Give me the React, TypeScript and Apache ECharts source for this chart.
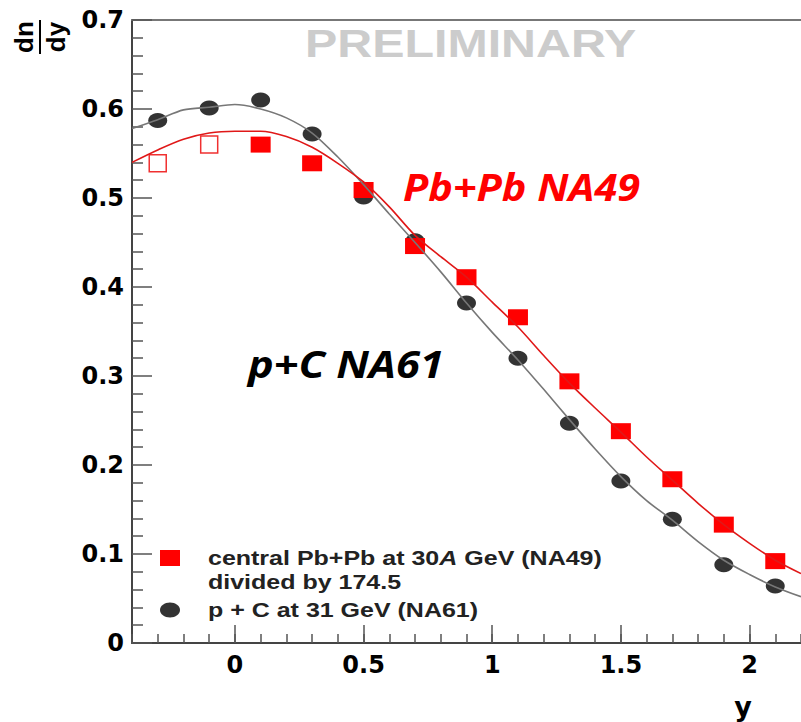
import React, { useEffect, useRef } from "react";
import * as echarts from "echarts";

// Rapidity bins
const yBins = [-0.3, -0.1, 0.1, 0.3, 0.5, 0.7, 0.9, 1.1, 1.3, 1.5, 1.7, 1.9, 2.1];
// central Pb+Pb at 30A GeV (NA49) divided by 174.5 (first two are reflected, open symbols)
const pbpbValues = [0.539, 0.560, 0.560, 0.539, 0.509, 0.446, 0.411, 0.366, 0.294, 0.238, 0.184, 0.133, 0.092];
const pbpbOpenCount = 2;
// p + C at 31 GeV (NA61)
const pcValues = [0.587, 0.601, 0.610, 0.572, 0.501, 0.452, 0.382, 0.320, 0.247, 0.182, 0.139, 0.088, 0.064];

// Fit curves
const curveX = [-0.4, -0.3, -0.2, -0.1, 0, 0.1, 0.2, 0.3, 0.4, 0.5, 0.6, 0.7, 0.8, 0.9, 1.0, 1.1, 1.2, 1.3, 1.4, 1.5, 1.6, 1.7, 1.8, 1.9, 2.0, 2.1, 2.2];
const pcFit = [0.578, 0.588, 0.599, 0.602, 0.605, 0.600, 0.590, 0.573, 0.546, 0.515, 0.482, 0.450, 0.417, 0.382, 0.349, 0.318, 0.285, 0.251, 0.218, 0.187, 0.160, 0.138, 0.114, 0.093, 0.077, 0.063, 0.052];
const pbpbFit = [0.540, 0.554, 0.566, 0.573, 0.575, 0.575, 0.569, 0.557, 0.539, 0.518, 0.490, 0.458, 0.434, 0.411, 0.383, 0.355, 0.323, 0.292, 0.264, 0.237, 0.209, 0.183, 0.157, 0.133, 0.112, 0.093, 0.078];

const xMajorTicks = [0, 0.5, 1, 1.5, 2];

export default function App() {
  const ref = useRef<HTMLDivElement>(null);
  useEffect(() => {
    if (!ref.current) return;
    const chart = echarts.init(ref.current, null, { renderer: "svg" });
    const labelFont = { fontFamily: "DejaVu Sans", fontWeight: "bold" as const, fontSize: 24, color: "#000" };
    const legendFont = 'bold 20px "Liberation Sans"';
    const legendScale = 1.25;
    chart.setOption({
      animation: false,
      backgroundColor: "#fff",
      grid: { left: 132, top: 20, width: 670, height: 623 },
      xAxis: [
        {
          type: "value", min: -0.4, max: 2.2, interval: 0.1, position: "bottom",
          axisLine: { show: true, onZero: false, lineStyle: { color: "#444", width: 2 } },
          axisTick: { show: true, inside: true, length: 9, lineStyle: { color: "#555", width: 1.5 } },
          axisLabel: { show: false },
          splitLine: { show: false },
        },
        {
          type: "value", min: -0.4, max: 2.2, position: "bottom",
          axisLine: { show: false, onZero: false },
          axisTick: { show: true, inside: true, length: 18, customValues: xMajorTicks, lineStyle: { color: "#555", width: 1.5 } },
          axisLabel: { show: true, customValues: xMajorTicks, margin: 10, ...labelFont, formatter: (v: number) => String(v) },
          splitLine: { show: false },
        },
        {
          type: "value", min: -0.4, max: 2.2, position: "top",
          axisLine: { show: true, onZero: false, lineStyle: { color: "#777", width: 2 } },
          axisTick: { show: false }, axisLabel: { show: false }, splitLine: { show: false },
        },
      ],
      yAxis: {
        type: "value", min: 0, max: 0.7, interval: 0.1, position: "left",
        axisLine: { show: true, onZero: false, lineStyle: { color: "#444", width: 2 } },
        axisTick: { show: true, inside: true, length: 20, lineStyle: { color: "#555", width: 1.5 } },
        minorTick: { show: true, splitNumber: 5, length: 11, lineStyle: { color: "#555", width: 1.5 } },
        axisLabel: { margin: 8, ...labelFont, formatter: (v: number) => (v === 0 ? "0" : v.toFixed(1)) },
        splitLine: { show: false },
      },
      series: [
        {
          type: "line", name: "p+C fit", smooth: 0.3, showSymbol: false, xAxisIndex: 0,
          lineStyle: { color: "#777", width: 1.6 },
          data: curveX.map((x, i) => [x, pcFit[i]]),
        },
        {
          type: "line", name: "Pb+Pb fit", smooth: 0.3, showSymbol: false, xAxisIndex: 0,
          lineStyle: { color: "#e01818", width: 1.6 },
          data: curveX.map((x, i) => [x, pbpbFit[i]]),
        },
        {
          type: "scatter", name: "p + C at 31 GeV (NA61)", symbol: "circle", symbolSize: [19, 15], xAxisIndex: 0,
          itemStyle: { color: "#333", opacity: 1 },
          data: yBins.map((x, i) => [x, pcValues[i]]),
        },
        {
          type: "scatter", name: "Pb+Pb reflected", symbol: "rect", symbolSize: [17, 17], xAxisIndex: 0,
          itemStyle: { color: "rgba(255,255,255,0)", borderColor: "#f03030", borderWidth: 1.5, opacity: 1 },
          data: yBins.slice(0, pbpbOpenCount).map((x, i) => [x, pbpbValues[i]]),
        },
        {
          type: "scatter", name: "central Pb+Pb at 30A GeV (NA49)", symbol: "rect", symbolSize: [20, 16], xAxisIndex: 0,
          itemStyle: { color: "#ff0000", opacity: 1 },
          data: yBins.slice(pbpbOpenCount).map((x, i) => [x, pbpbValues[i + pbpbOpenCount]]),
        },
      ],
      graphic: [
        {
          type: "text", x: 305, y: 43, scaleX: 1.24, silent: true,
          style: { text: "PRELIMINARY", font: 'bold 39px "Liberation Sans"', fill: "#cccccc", align: "left", verticalAlign: "middle" },
        },
        {
          type: "text", x: 403, y: 187, scaleX: 1.09, silent: true,
          style: { text: "Pb+Pb NA49", font: 'italic bold 38px "Open Sans"', fill: "#ff0000", align: "left", verticalAlign: "middle" },
        },
        {
          type: "text", x: 248, y: 364, scaleX: 1.17, silent: true,
          style: { text: "p+C NA61", font: 'italic bold 37px "Open Sans"', fill: "#000", align: "left", verticalAlign: "middle" },
        },
        {
          type: "text", x: 40, y: 37, rotation: Math.PI / 2, silent: true,
          style: { text: "dn", x: 0, y: -3, font: 'bold 26px "Liberation Sans"', fill: "#000", align: "center", verticalAlign: "bottom" },
        },
        { type: "line", shape: { x1: 40, y1: 20, x2: 40, y2: 54 }, style: { stroke: "#000", lineWidth: 2 } },
        {
          type: "text", x: 40, y: 37, rotation: Math.PI / 2, silent: true,
          style: { text: "dy", x: 0, y: 3, font: 'bold 26px "Liberation Sans"', fill: "#000", align: "center", verticalAlign: "top" },
        },
        {
          type: "text", x: 743, y: 706, silent: true,
          style: { text: "y", font: 'bold 27px "DejaVu Sans"', fill: "#000", align: "center", verticalAlign: "middle" },
        },
        { type: "rect", shape: { x: 160, y: 550, width: 20, height: 16 }, style: { fill: "#ff0000" } },
        {
          type: "text", x: 208, y: 558, scaleX: legendScale,
          style: {
            text: "{n|central Pb+Pb at 30}{i|A}{n| GeV (NA49)}", align: "left", verticalAlign: "middle",
            rich: {
              n: { font: legendFont, fill: "#222" },
              i: { font: 'italic bold 20px "Liberation Sans"', fill: "#222" },
            },
          },
        },
        {
          type: "text", x: 208, y: 582, scaleX: legendScale,
          style: { text: "divided by 174.5", font: legendFont, fill: "#222", align: "left", verticalAlign: "middle" },
        },
        { type: "ellipse", shape: { cx: 170, cy: 610, rx: 10, ry: 7.5 }, style: { fill: "#333" } },
        {
          type: "text", x: 208, y: 610, scaleX: legendScale,
          style: { text: "p + C at 31 GeV (NA61)", font: legendFont, fill: "#222", align: "left", verticalAlign: "middle" },
        },
      ],
    });
    return () => chart.dispose();
  }, []);
  return <div ref={ref} style={{ position: "absolute", left: 0, top: 0, width: 801, height: 722 }} />;
}
